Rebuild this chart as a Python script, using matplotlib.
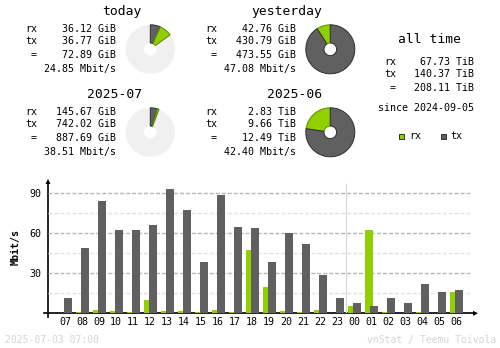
import matplotlib

matplotlib.use("Agg")
import matplotlib.pyplot as plt  # noqa: E402
from matplotlib.patches import Wedge, Rectangle, Polygon  # noqa: E402

plt.rcParams["font.family"] = ["DejaVu Sans Mono"]
plt.rcParams["lines.scale_dashes"] = False

RX_C = "#92cf00"
TX_C = "#606060"
GRID_C = "#b8b8b8"
GRIDL_C = "#e2e2e2"
FOOT_C = "#d4d4d4"

# hourly chart (Mbit/s)
hours = ["07", "08", "09", "10", "11", "12", "13", "14", "15", "16", "17", "18",
         "19", "20", "21", "22", "23", "00", "01", "02", "03", "04", "05", "06"]
rx_rate = [0, 1, 2.5, 1.8, 1, 10, 1.8, 1.8, 1, 2.5, 1, 47.5,
           19.7, 1.8, 1, 2.5, 0, 5.3, 62.5, 1, 0, 1, 0, 16]
tx_rate = [11.5, 49, 84.2, 62.5, 62.5, 66.2, 93.2, 77.5, 38.5, 88.7, 64.7, 64,
           38.5, 60, 52, 28.7, 11.5, 7.7, 5.3, 11.5, 7.7, 22, 16, 17.5]

# summary blocks
titles = ["today", "yesterday", "2025-07", "2025-06"]
rx_text = ["36.12 GiB", "42.76 GiB", "145.67 GiB", "2.83 TiB"]
tx_text = ["36.77 GiB", "430.79 GiB", "742.02 GiB", "9.66 TiB"]
tot_text = ["72.89 GiB", "473.55 GiB", "887.69 GiB", "12.49 TiB"]
rate_text = ["24.85 Mbit/s", "47.08 Mbit/s", "38.51 Mbit/s", "42.40 Mbit/s"]
# pie shares (fraction of full circle)
pie_rx = [0.083, 42.76 / 473.55, 0.011, 2.83 / 12.49]
pie_tx = [0.067, 430.79 / 473.55, 0.047, 9.66 / 12.49]
pie_partial = [True, False, True, False]

all_rx = "67.73 TiB"
all_tx = "140.37 TiB"
all_tot = "208.11 TiB"
since = "since 2024-09-05"

fig = plt.figure(figsize=(5, 3.48), dpi=100)

# overlay in pixel coordinates
ov = fig.add_axes([0, 0, 1, 1])
ov.set_xlim(0, 500)
ov.set_ylim(348, 0)
ov.axis("off")

fs = 7.2
tfs = 9.4
offsets = [(0, 0), (180, 0), (0, 83), (180, 83)]
for i, (ox, oy) in enumerate(offsets):
    ov.text(142 + ox, 11.7 + oy, titles[i], fontsize=tfs, ha="right", va="center")
    ov.text(25 + ox, 29.3 + oy, "rx", fontsize=fs, va="center")
    ov.text(25 + ox, 41.3 + oy, "tx", fontsize=fs, va="center")
    ov.text(34 + ox, 54.7 + oy, "=", fontsize=fs, ha="center", va="center")
    ov.text(115.5 + ox, 29.3 + oy, rx_text[i], fontsize=fs, ha="right", va="center")
    ov.text(115.5 + ox, 41.3 + oy, tx_text[i], fontsize=fs, ha="right", va="center")
    ov.text(115.5 + ox, 54.7 + oy, tot_text[i], fontsize=fs, ha="right", va="center")
    ov.text(115.5 + ox, 69 + oy, rate_text[i], fontsize=fs, ha="right", va="center")

    cx, cy = 150.3 + ox, 49.3 + oy
    r, w = 24.5, 18.2
    # y axis is inverted, so angles are mirrored: theta measured clockwise
    if pie_partial[i]:
        ov.add_patch(Wedge((cx, cy), r, 0, 360, width=w, fc="#f0f0f0", ec="none"))
        a0 = -90
        a1 = a0 + pie_tx[i] * 360
        a2 = a1 + pie_rx[i] * 360
        ov.add_patch(Wedge((cx, cy), r, a0, a1, width=w, fc=TX_C, ec="#303030", lw=0.7))
        ov.add_patch(Wedge((cx, cy), r, a1, a2, width=w, fc=RX_C, ec="#5a8a00", lw=0.7))
    else:
        a0 = -90 - pie_rx[i] * 360
        ov.add_patch(Wedge((cx, cy), r, a0, -90, width=w, fc=RX_C, ec="#5a8a00", lw=0.7))
        ov.add_patch(Wedge((cx, cy), r, -90, a0 + 360, width=w, fc=TX_C, ec="#303030", lw=0.7))

# all time block
ov.text(429, 39.3, "all time", fontsize=tfs, ha="center", va="center")
ov.text(384, 62, "rx", fontsize=fs, va="center")
ov.text(384, 74, "tx", fontsize=fs, va="center")
ov.text(393, 88.3, "=", fontsize=fs, ha="center", va="center")
ov.text(474, 62, all_rx, fontsize=fs, ha="right", va="center")
ov.text(474, 74, all_tx, fontsize=fs, ha="right", va="center")
ov.text(474, 88.3, all_tot, fontsize=fs, ha="right", va="center")
ov.text(474, 108, since, fontsize=fs, ha="right", va="center")
ov.add_patch(Rectangle((399, 133.5), 5, 5, fc=RX_C, ec="#303030", lw=0.7))
ov.text(409, 136, "rx", fontsize=fs, va="center")
ov.add_patch(Rectangle((441, 133.5), 5, 5, fc=TX_C, ec="#303030", lw=0.7))
ov.text(450, 136, "tx", fontsize=fs, va="center")

# footer
ov.text(5, 340, "2025-07-03 07:00", fontsize=7, color=FOOT_C, va="center")
ov.text(496, 340, "vnStat / Teemu Toivola", fontsize=7, color=FOOT_C, ha="right", va="center")

# hourly bar chart
base_y = 313.3
ax = fig.add_axes([48 / 500, (348 - base_y) / 348, (472 - 48) / 500, 133.3 / 348])
ax.set_xlim(-1, 23.94)
ax.set_ylim(0, 100)
for s in ax.spines.values():
    s.set_visible(False)
ax.set_facecolor("none")
for v in (15, 45, 75):
    ax.axhline(v, color=GRIDL_C, lw=1, dashes=(2.9, 1.4), zorder=0)
for v in (30, 60, 90):
    ax.axhline(v, color=GRID_C, lw=1, dashes=(2.9, 1.4), zorder=0)
ax.plot([16.5, 16.5], [0, 97], color="#dcdcdc", lw=1, zorder=0)

xs = list(range(len(hours)))
bw = 8 / 17
ax.bar([x - 2.5 / 17 for x in xs], rx_rate, width=bw, color=RX_C, zorder=2)
ax.bar([x + 2.5 / 17 for x in xs], tx_rate, width=bw, color=TX_C, zorder=3)

ax.set_xticks(xs, hours)
ax.set_yticks([30, 60, 90])
ax.tick_params(axis="x", length=0, pad=3, labelsize=fs)
ax.tick_params(axis="y", length=0, pad=5, labelsize=fs)
ax.set_ylabel("Mbit/s", fontsize=fs, fontweight="bold", labelpad=6)

# axis lines with arrows
ov.plot([48, 48], [184, 317], color="black", lw=1.2)
ov.add_patch(Polygon([[45.5, 184], [50.5, 184], [48, 179]], closed=True, fc="black", ec="none"))
ov.plot([44, 473], [base_y, base_y], color="black", lw=1.2)
ov.add_patch(Polygon([[473, base_y - 2.5], [473, base_y + 2.5], [478, base_y]], closed=True,
                     fc="black", ec="none"))

fig.savefig("out.png", dpi=100)
